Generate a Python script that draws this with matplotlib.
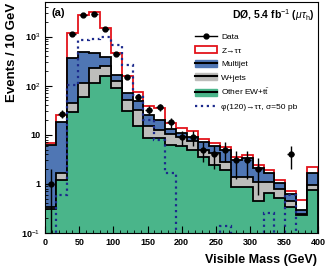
import matplotlib
matplotlib.use("Agg")
import matplotlib.pyplot as plt
from matplotlib.patches import Patch
from matplotlib.lines import Line2D
import numpy as np

plt.rcParams['font.family'] = ['Liberation Sans', 'DejaVu Sans']
plt.rcParams['mathtext.fontset'] = 'custom'
plt.rcParams['mathtext.rm'] = 'Liberation Sans'
plt.rcParams['mathtext.it'] = 'Liberation Sans:italic'
plt.rcParams['mathtext.bf'] = 'Liberation Sans:bold'

# 25 bins of 16 GeV from 0 to 400
edges = np.arange(0, 401, 16)
centers = edges[:-1] + 8

data = np.array([1, 27, 1130, 2700, 2950, 1430, 440, 150, 59, 32, 37, 18, 9, 9,
                 5, 4, 5, 3, 3, 2, 0, 0, 4, 0, 0])
other_ew = np.array([0.31, 1.2, 29, 58, 113, 160, 89, 31, 14.8, 8.6, 8.7, 6.2, 5.8, 4.9,
                     3.6, 2.4, 1.9, 0.85, 0.85, 0.45, 0.65, 0.51, 0.34, 0.23, 0.75])
wjets = np.array([0.02, 0.45, 16, 55, 117, 90, 33, 21, 17.2, 6.2, 3.9, 4.3, 3.2, 2.4,
                  1.2, 1.8, 0.9, 0.5, 0.5, 0.65, 0.45, 0.29, 0.11, 0.01, 0.2])
multijet = np.array([5.97, 16.85, 327, 377, 240, 140, 46, 19, 16, 10.8, 7.4, 2.5, 2.0, 1.9,
                     2.2, 1.6, 2.0, 1.75, 2.0, 1.0, 0.55, 0.25, 0.17, 0.05, 0.7])
ztautau = np.array([0.5, 7.1, 808, 2310, 2680, 1110, 297, 84, 28, 12.4, 15, 4.5, 3.0, 2.5,
                    1.1, 1.0, 0.7, 0.5, 0.55, 0.35, 0.28, 0.15, 0.08, 0.18, 0.6])
signal = np.array([0, 0.6, 105, 850, 900, 960, 690, 270, 65, 20, 7.9, 1.65, 0, 0,
                   0, 0, 0.14, 0, 0, 0, 0.26, 0, 0.6, 0, 0])

top_g = other_ew
top_w = top_g + wjets
top_m = top_w + multijet
top_z = top_m + ztautau

c_blue = '#4f76b4'
c_gray = '#bdbdbb'
c_green = '#4ab58a'
c_red = '#e3141b'
c_sig = '#1c2a8c'
low = 1e-3

fig = plt.figure(figsize=(3.27, 2.73), dpi=100)
ax = fig.add_axes([0.138, 0.147, 0.835, 0.846])
ax.set_yscale('log')

ax.stairs(top_z, edges, baseline=low, fill=True, facecolor='white', edgecolor=c_red, lw=1.3)
ax.stairs(top_m, edges, baseline=low, fill=True, facecolor=c_blue, edgecolor='black', lw=1.3)
ax.stairs(top_w, edges, baseline=low, fill=True, facecolor=c_gray, edgecolor='black', lw=1.3)
ax.stairs(top_g, edges, baseline=low, fill=True, facecolor=c_green, edgecolor='black', lw=1.3)
ax.stairs(np.where(signal > 0, signal, low), edges, baseline=low, fill=False,
          color=c_sig, ls=':', lw=1.6)

m = data > 0
ax.errorbar(centers[m], data[m], yerr=np.sqrt(data[m]), xerr=5, fmt='o', color='black',
            ms=3.5, elinewidth=1, capsize=0)

ax.set_xlim(0, 400)
ax.set_ylim(0.1, 5100)
ax.set_xticks(np.arange(0, 401, 50))
ax.set_xticks(np.arange(0, 401, 10), minor=True)
ax.set_yticks([0.1, 1, 10, 100, 1000])
ax.set_yticklabels(['10$^{-1}$', '1', '10', '10$^{2}$', '10$^{3}$'])
ax.tick_params(which='both', direction='in', labelsize=6.5)
ax.tick_params(which='major', length=5)
ax.tick_params(which='minor', length=2.5)
for lab in ax.get_xticklabels() + ax.get_yticklabels():
    lab.set_fontweight('bold')

ax.set_xlabel('Visible Mass (GeV)', fontsize=9, fontweight='bold', loc='right')
ax.set_ylabel('Events / 10 GeV', fontsize=9.5, fontweight='bold', loc='top')
ax.yaxis.set_label_coords(-0.1, 0.995)
ax.xaxis.set_label_coords(0.995, -0.09)

ax.text(0.025, 0.975, '(a)', transform=ax.transAxes, fontsize=8, fontweight='bold',
        ha='left', va='top')
ax.text(0.985, 0.975, r'DØ, 5.4 fb$^{-1}$ ($\mu\tau_{\mathrm{h}}$)', transform=ax.transAxes,
        fontsize=7.5, fontweight='bold', ha='right', va='top')

handles = [
    Line2D([], [], color='black', marker='o', ms=3.5, lw=1),
    Patch(facecolor='white', edgecolor=c_red, lw=1.3),
    (Patch(facecolor=c_blue, edgecolor=c_blue), Line2D([], [], color='black', lw=1.5)),
    (Patch(facecolor=c_gray, edgecolor=c_gray), Line2D([], [], color='black', lw=1.5)),
    (Patch(facecolor=c_green, edgecolor=c_green), Line2D([], [], color='black', lw=1.5)),
    Line2D([], [], color=c_sig, ls=':', lw=1.6),
]
labels = ['Data', 'Z→ττ', 'Multijet', 'W+jets', r'Other EW+$\mathrm{t\bar{t}}$',
          'φ(120)→ττ, σ=50 pb']
ax.legend(handles, labels, loc='upper left', bbox_to_anchor=(0.585, 0.895),
          bbox_transform=fig.transFigure, frameon=False, fontsize=6, borderpad=0,
          labelspacing=0.62, handlelength=2.6, handletextpad=0.5, handleheight=0.9)

fig.savefig('out.png', dpi=100)
